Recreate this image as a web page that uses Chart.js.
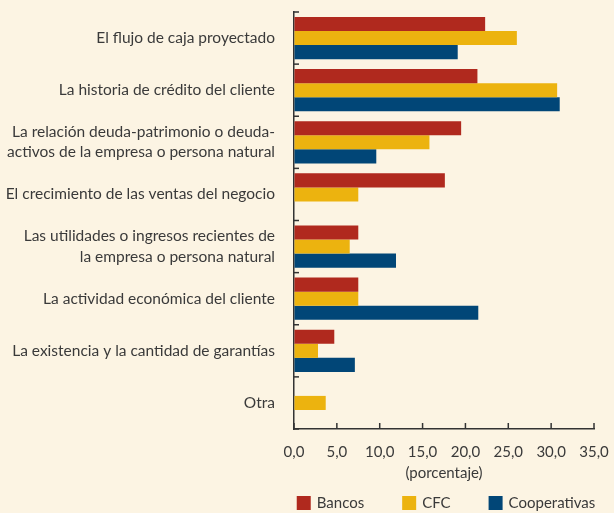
<!DOCTYPE html>
<html><head><meta charset="utf-8">
<script src="https://cdn.jsdelivr.net/npm/chart.js@4/dist/chart.umd.min.js"></script>
<style>html,body{margin:0;padding:0;background:#FCF4E3;}#wrap{width:614px;height:513px;}</style>
</head><body><div id="wrap"><canvas id="c" width="614" height="513"></canvas></div>
<script>
const categories = [
  ["El flujo de caja proyectado"],
  ["La historia de crédito del cliente"],
  ["La relación deuda-patrimonio o deuda-", "activos de la empresa o persona natural"],
  ["El crecimiento de las ventas del negocio"],
  ["Las utilidades o ingresos recientes de", "la empresa o persona natural"],
  ["La actividad económica del cliente"],
  ["La existencia y la cantidad de garantías"],
  ["Otra"]
];
const bancos = [22.3, 21.4, 19.5, 17.6, 7.5, 7.5, 4.7, 0];
const cfc = [26.0, 30.7, 15.8, 7.5, 6.5, 7.5, 2.8, 3.7];
const cooperativas = [19.1, 31.0, 9.6, 0, 11.9, 21.5, 7.1, 0];
const seriesNames = ["Bancos", "CFC", "Cooperativas"];
const xTicks = [0, 5, 10, 15, 20, 25, 30, 35];

const FONT = "Lato";
const TEXT = "#3a3a3a";
const AXIS = "#333333";

const innerTicks = {
  id: 'innerTicks',
  afterDatasetsDraw(chart) {
    const ctx = chart.ctx;
    const xs = chart.scales.x, ys = chart.scales.y;
    ctx.save();
    ctx.strokeStyle = AXIS;
    ctx.lineWidth = 1.5;
    xTicks.forEach(v => {
      const px = xs.getPixelForValue(v);
      ctx.beginPath(); ctx.moveTo(px, ys.bottom); ctx.lineTo(px, ys.bottom - 6); ctx.stroke();
    });
    const n = categories.length;
    for (let i = 0; i <= n; i++) {
      const py = ys.getPixelForValue(i - 0.5);
      ctx.beginPath(); ctx.moveTo(xs.left, py); ctx.lineTo(xs.left + 5, py); ctx.stroke();
    }
    ctx.restore();
  }
};

const customLegend = {
  id: 'customLegend',
  afterDraw(chart) {
    const ctx = chart.ctx;
    const ca = chart.chartArea;
    const box = 14, gapText = 6, gapItem = 38;
    ctx.save();
    ctx.font = "15px " + FONT;
    const items = chart.data.datasets.map(d => ({ label: d.label, color: d.backgroundColor, w: ctx.measureText(d.label).width }));
    let total = 0;
    items.forEach((it, i) => { total += box + gapText + it.w + (i < items.length - 1 ? gapItem : 0); });
    let x = (ca.left + ca.right) / 2 - total / 2 + 2;
    const cy = 503;
    ctx.textBaseline = 'middle';
    ctx.textAlign = 'left';
    items.forEach(it => {
      ctx.fillStyle = it.color;
      ctx.fillRect(x, cy - box / 2, box, box);
      ctx.fillStyle = TEXT;
      ctx.fillText(it.label, x + box + gapText, cy);
      x += box + gapText + it.w + gapItem;
    });
    ctx.restore();
  }
};

new Chart(document.getElementById('c'), {
  type: 'bar',
  data: {
    labels: categories,
    datasets: [
      { label: seriesNames[0], data: bancos, backgroundColor: "#B0291E" },
      { label: seriesNames[1], data: cfc, backgroundColor: "#ECB30F" },
      { label: seriesNames[2], data: cooperativas, backgroundColor: "#014677" }
    ]
  },
  options: {
    indexAxis: 'y',
    responsive: false,
    animation: false,
    devicePixelRatio: 1,
    layout: { padding: { left: 0, right: 20, top: 12, bottom: 24 } },
    datasets: { bar: { categoryPercentage: 0.81, barPercentage: 1.0, borderWidth: 0 } },
    scales: {
      x: {
        min: 0, max: 35,
        afterBuildTicks(s) { s.ticks = xTicks.map(v => ({ value: v })); },
        afterFit(s) { s.height = 60; s.paddingLeft = 0; s.paddingRight = 0; },
        ticks: { color: TEXT, font: { family: FONT, size: 15 }, padding: 14,
          callback: v => v.toFixed(1).replace('.', ',') },
        grid: { color: 'rgba(0,0,0,0)', drawTicks: false },
        border: { display: true, color: AXIS, width: 1.5 },
        title: { display: true, text: "(porcentaje)", color: TEXT, font: { family: FONT, size: 15 }, padding: { top: 4, bottom: 7 } }
      },
      y: {
        afterFit(s) { s.width = 294; s.paddingTop = 0; s.paddingBottom = 0; },
        ticks: { color: TEXT, font: { family: FONT, size: 15.5, lineHeight: 1.3 }, padding: 19, autoSkip: false },
        grid: { color: 'rgba(0,0,0,0)', drawTicks: false, offset: true },
        border: { display: true, color: AXIS, width: 1.5 }
      }
    },
    plugins: {
      legend: { display: false },
      tooltip: { enabled: false }
    }
  },
  plugins: [innerTicks, customLegend]
});
</script></body></html>
